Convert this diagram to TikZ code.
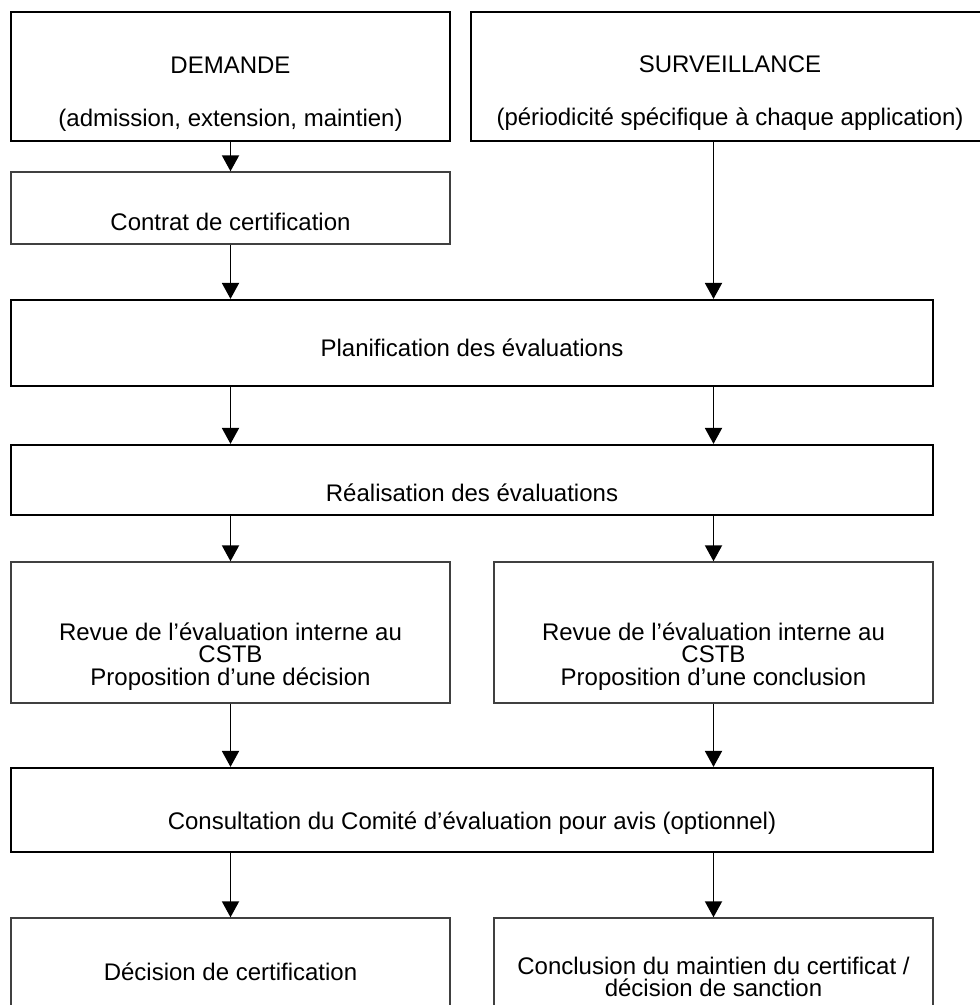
\documentclass[tikz,border=0pt]{standalone}
\usepackage{fontspec}
\setmainfont{Liberation Sans}
\usetikzlibrary{arrows.meta}

\begin{document}
\begin{tikzpicture}[x=1pt,y=-1pt,
  box/.style={draw=black!75,line width=1.4pt,minimum width=439pt},
  bold box/.style={box,draw=black,line width=2.2pt},
  wide/.style={minimum width=922pt},
  txt/.style={font=\fontsize{24}{22.5}\selectfont,align=center},
  flow/.style={-{Triangle[width=17pt,length=16pt]},line width=1.9pt}]
\useasboundingbox (0,0) rectangle (980,1005);

% entries
\node[bold box,minimum height=129pt,label={[txt,yshift=-17.5pt]center:{DEMANDE\\[30.5pt](admission, extension, maintien)}}] (demande) at (230.5,76.5) {};
\node[bold box,minimum width=518pt,minimum height=129pt,label={[txt,yshift=-16.5pt]center:{SURVEILLANCE\\[30.5pt](périodicité spécifique à chaque application)}}] (surv) at (730,76.5) {};
\node[box,minimum height=72pt,label={[txt,yshift=-14pt]center:Contrat de certification}] (contrat) at (230.5,208) {};

% evaluations
\node[bold box,wide,minimum height=86pt,label={[txt,yshift=-5pt]center:Planification des évaluations}] (planif) at (472,343) {};
\node[bold box,wide,minimum height=70pt,label={[txt,yshift=-13pt]center:Réalisation des évaluations}] (real) at (472,480) {};
\node[box,minimum height=141pt,label={[txt,yshift=-24pt]center:{Revue de l’évaluation interne au\\CSTB\\Proposition d’une décision}}] (revue1) at (230.5,632.5) {};
\node[box,minimum height=141pt,label={[txt,yshift=-24pt]center:{Revue de l’évaluation interne au\\CSTB\\Proposition d’une conclusion}}] (revue2) at (713.5,632.5) {};
\node[bold box,wide,minimum height=84pt,label={[txt,yshift=-13.5pt]center:{Consultation du Comité d’évaluation pour avis (optionnel)}}] (consult) at (472,810) {};

% outcomes
\node[box,minimum height=122pt,label={[txt,yshift=7pt]center:Décision de certification}] (decision) at (230.5,979) {};
\node[box,minimum height=122pt,label={[txt,yshift=2pt]center:{Conclusion du maintien du certificat /\\décision de sanction}}] (conclusion) at (713.5,979) {};

\path[flow] (demande) edge (contrat)
  (surv.south -| revue2) edge (planif.north -| revue2)
  (contrat) edge (planif.north -| contrat)
  (planif.south -| revue1) edge (real.north -| revue1)
  (planif.south -| revue2) edge (real.north -| revue2)
  (real.south -| revue1) edge (revue1)
  (real.south -| revue2) edge (revue2)
  (revue1) edge (consult.north -| revue1)
  (revue2) edge (consult.north -| revue2)
  (consult.south -| decision) edge (decision)
  (consult.south -| conclusion) edge (conclusion);
\end{tikzpicture}
\end{document}
